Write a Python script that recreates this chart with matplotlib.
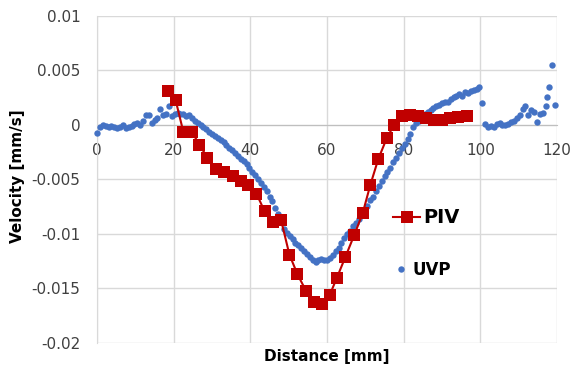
import numpy as np
import matplotlib
matplotlib.use("Agg")
import matplotlib.pyplot as plt
from matplotlib.lines import Line2D

# PIV measurement (squares joined by a line)
Distance_PIV = [18.4, 20.5, 22.5, 24.7, 26.7, 28.8, 31.0, 33.2, 35.4, 37.6,
                39.5, 41.6, 43.7, 45.9, 48.0, 50.2, 52.3, 54.5, 56.7, 58.7,
                60.7, 62.6, 64.8, 67.1, 69.3, 71.3, 73.4, 75.6, 77.5, 79.6,
                81.7, 83.8, 85.9, 88.0, 90.1, 92.2, 94.3, 96.6]
Velocity_PIV = [0.0031, 0.0023, -0.0006, -0.0006, -0.0018, -0.0030, -0.0040, -0.0043, -0.0047, -0.0051,
                -0.0055, -0.0063, -0.0079, -0.0089, -0.0087, -0.0119, -0.0137, -0.0152, -0.0162, -0.0164,
                -0.0156, -0.0140, -0.0121, -0.0101, -0.0081, -0.0055, -0.0031, -0.0012, 0.0000, 0.0008,
                0.0009, 0.0008, 0.0006, 0.0005, 0.0005, 0.0006, 0.0007, 0.0008]

# UVP measurement (dots)
Distance_UVP = [0, 0.75, 1.5, 2.25, 3, 3.75, 4.5, 5.25, 6, 6.75,
                7.5, 8.25, 9, 9.75, 10.5, 11.25, 12, 12.75, 13.5, 14.25,
                15, 15.75, 16.5, 17.25, 18, 18.75, 19.5, 20.25, 21, 21.75,
                22.5, 23.25, 24, 24.75, 25.5, 26.25, 27, 27.75, 28.5, 29.25,
                30, 30.75, 31.5, 32.25, 33, 33.75, 34.5, 35.25, 36, 36.75,
                37.5, 38.25, 39, 39.75, 40.5, 41.25, 42, 42.75, 43.5, 44.25,
                45, 45.75, 46.5, 47.25, 48, 48.75, 49.5, 50.25, 51, 51.75,
                52.5, 53.25, 54, 54.75, 55.5, 56.25, 57, 57.75, 58.5, 59.25,
                60, 60.75, 61.5, 62.25, 63, 63.75, 64.5, 65.25, 66, 66.75,
                67.5, 68.25, 69, 69.75, 70.5, 71.25, 72, 72.75, 73.5, 74.25,
                75, 75.75, 76.5, 77.25, 78, 78.75, 79.5, 80.25, 81, 81.75,
                82.5, 83.25, 84, 84.75, 85.5, 86.25, 87, 87.75, 88.5, 89.25,
                90, 90.75, 91.5, 92.25, 93, 93.75, 94.5, 95.25, 96, 96.75,
                97.5, 98.25, 99, 99.75, 100.5, 101.25, 102, 102.75, 103.5, 104.25,
                105, 105.75, 106.5, 107.25, 108, 108.75, 109.5, 110.25, 111, 111.75,
                112.5, 113.25, 114, 114.75, 115.5, 116.25, 117, 117.5, 118, 118.7,
                119.5]
Velocity_UVP = [-0.0007, -0.0002, 0.0000, -0.0001, -0.0002, -0.0001, -0.0002, -0.0003, -0.0002, 0.0000,
                -0.0003, -0.0002, -0.0001, 0.0001, 0.0002, 0.0000, 0.0004, 0.0009, 0.0009, 0.0002,
                0.0005, 0.0006, 0.0015, 0.0009, 0.0010, 0.0017, 0.0008, 0.0010, 0.0011, 0.0010,
                0.0010, 0.0008, 0.0009, 0.0006, 0.0004, 0.0002, 0.0000, -0.0002, -0.0004, -0.0006,
                -0.0008, -0.0010, -0.0012, -0.0014, -0.0016, -0.0018, -0.0021, -0.0023, -0.0026, -0.0028,
                -0.0031, -0.0033, -0.0036, -0.0039, -0.0043, -0.0046, -0.0050, -0.0053, -0.0057, -0.0061,
                -0.0066, -0.0070, -0.0076, -0.0082, -0.0089, -0.0095, -0.0099, -0.0102, -0.0105, -0.0108,
                -0.0110, -0.0113, -0.0116, -0.0118, -0.0121, -0.0124, -0.0126, -0.0124, -0.0123, -0.0124,
                -0.0124, -0.0122, -0.0119, -0.0116, -0.0113, -0.0108, -0.0104, -0.0100, -0.0097, -0.0093,
                -0.0090, -0.0086, -0.0082, -0.0078, -0.0074, -0.0069, -0.0066, -0.0061, -0.0056, -0.0051,
                -0.0047, -0.0043, -0.0039, -0.0034, -0.0030, -0.0026, -0.0021, -0.0017, -0.0013, -0.0008,
                -0.0002, 0.0002, 0.0004, 0.0007, 0.0010, 0.0012, 0.0014, 0.0016, 0.0017, 0.0018,
                0.0020, 0.0021, 0.0021, 0.0024, 0.0026, 0.0027, 0.0028, 0.0027, 0.0030, 0.0029,
                0.0031, 0.0032, 0.0033, 0.0035, 0.0020, 0.0001, -0.0002, -0.0001, -0.0002, 0.0001,
                0.0002, 0.0000, 0.0000, 0.0001, 0.0003, 0.0004, 0.0006, 0.0009, 0.0015, 0.0017,
                0.0009, 0.0014, 0.0012, 0.0003, 0.0010, 0.0011, 0.0017, 0.0026, 0.0035, 0.0055,
                0.0018]

XTicks = [0, 20, 40, 60, 80, 100, 120]
XTickLabels = ["0", "20", "40", "60", "80", "100", "120"]
YTicks = [0.01, 0.005, 0, -0.005, -0.01, -0.015, -0.02]
YTickLabels = ["0.01", "0.005", "0", "-0.005", "-0.01", "-0.015", "-0.02"]

Red = "#C00000"
Blue = "#4472C4"
GridColor = "#D9D9D9"
TextColor = "#404040"

W, H = 571, 369
fig = plt.figure(figsize=(W / 100, H / 100), dpi=100)
ax = fig.add_axes([97 / W, 1 - 343 / H, 460 / W, 327 / H])

ax.plot(Distance_UVP, Velocity_UVP, linestyle="none", marker="o", markersize=4.6,
        markeredgewidth=0, color=Blue, zorder=3, clip_on=False)
ax.plot(Distance_PIV, Velocity_PIV, color=Red, marker="s", markersize=8, linewidth=1.5,
        markeredgewidth=0, zorder=4, clip_on=False)

ax.set_xlim(0, 120)
ax.set_ylim(-0.02, 0.01)
ax.set_xticks(XTicks)
ax.set_xticklabels(XTickLabels)
ax.set_yticks(YTicks)
ax.set_yticklabels(YTickLabels)
ax.grid(True, color=GridColor, linewidth=1)
ax.set_axisbelow(True)

for s in ["top", "right"]:
    ax.spines[s].set_visible(False)
ax.spines["left"].set_color(GridColor)
ax.spines["bottom"].set_position(("data", 0))
ax.spines["bottom"].set_color("#BFBFBF")
ax.spines["bottom"].set_zorder(1)

ax.tick_params(axis="both", length=0, labelsize=11, labelcolor=TextColor)
ax.tick_params(axis="x", pad=13)
ax.tick_params(axis="y", pad=12)

ax.set_xlabel("Distance [mm]", fontsize=11, fontweight="bold", va="center")
ax.set_ylabel("Velocity [mm/s]", fontsize=11, fontweight="bold", va="center")
ax.xaxis.set_label_coords(0.5, -(357 - 343) / 327)
ax.yaxis.set_label_coords((17.5 - 97) / 460, 0.51)

# legend, two entries with different text sizes
h_piv = Line2D([], [], color=Red, marker="s", markersize=8, linewidth=1.5, markeredgewidth=0)
h_uvp = Line2D([], [], color=Blue, marker="o", markersize=4.6, linestyle="none", markeredgewidth=0)
leg1 = ax.legend([h_piv], ["PIV"], loc="center left", bbox_to_anchor=((393 - 97) / 460, (343 - 218) / 327),
                 frameon=False, borderpad=0, borderaxespad=0, handlelength=1.4, handletextpad=0.15,
                 prop={"size": 14, "weight": "bold"})
ax.add_artist(leg1)
ax.legend([h_uvp], ["UVP"], loc="center left", bbox_to_anchor=((394 - 97) / 460, (343 - 270) / 327),
          frameon=False, borderpad=0, borderaxespad=0, handlelength=0.8, handletextpad=0.3,
          numpoints=1, prop={"size": 12, "weight": "bold"})

fig.savefig("out.png", dpi=100)
